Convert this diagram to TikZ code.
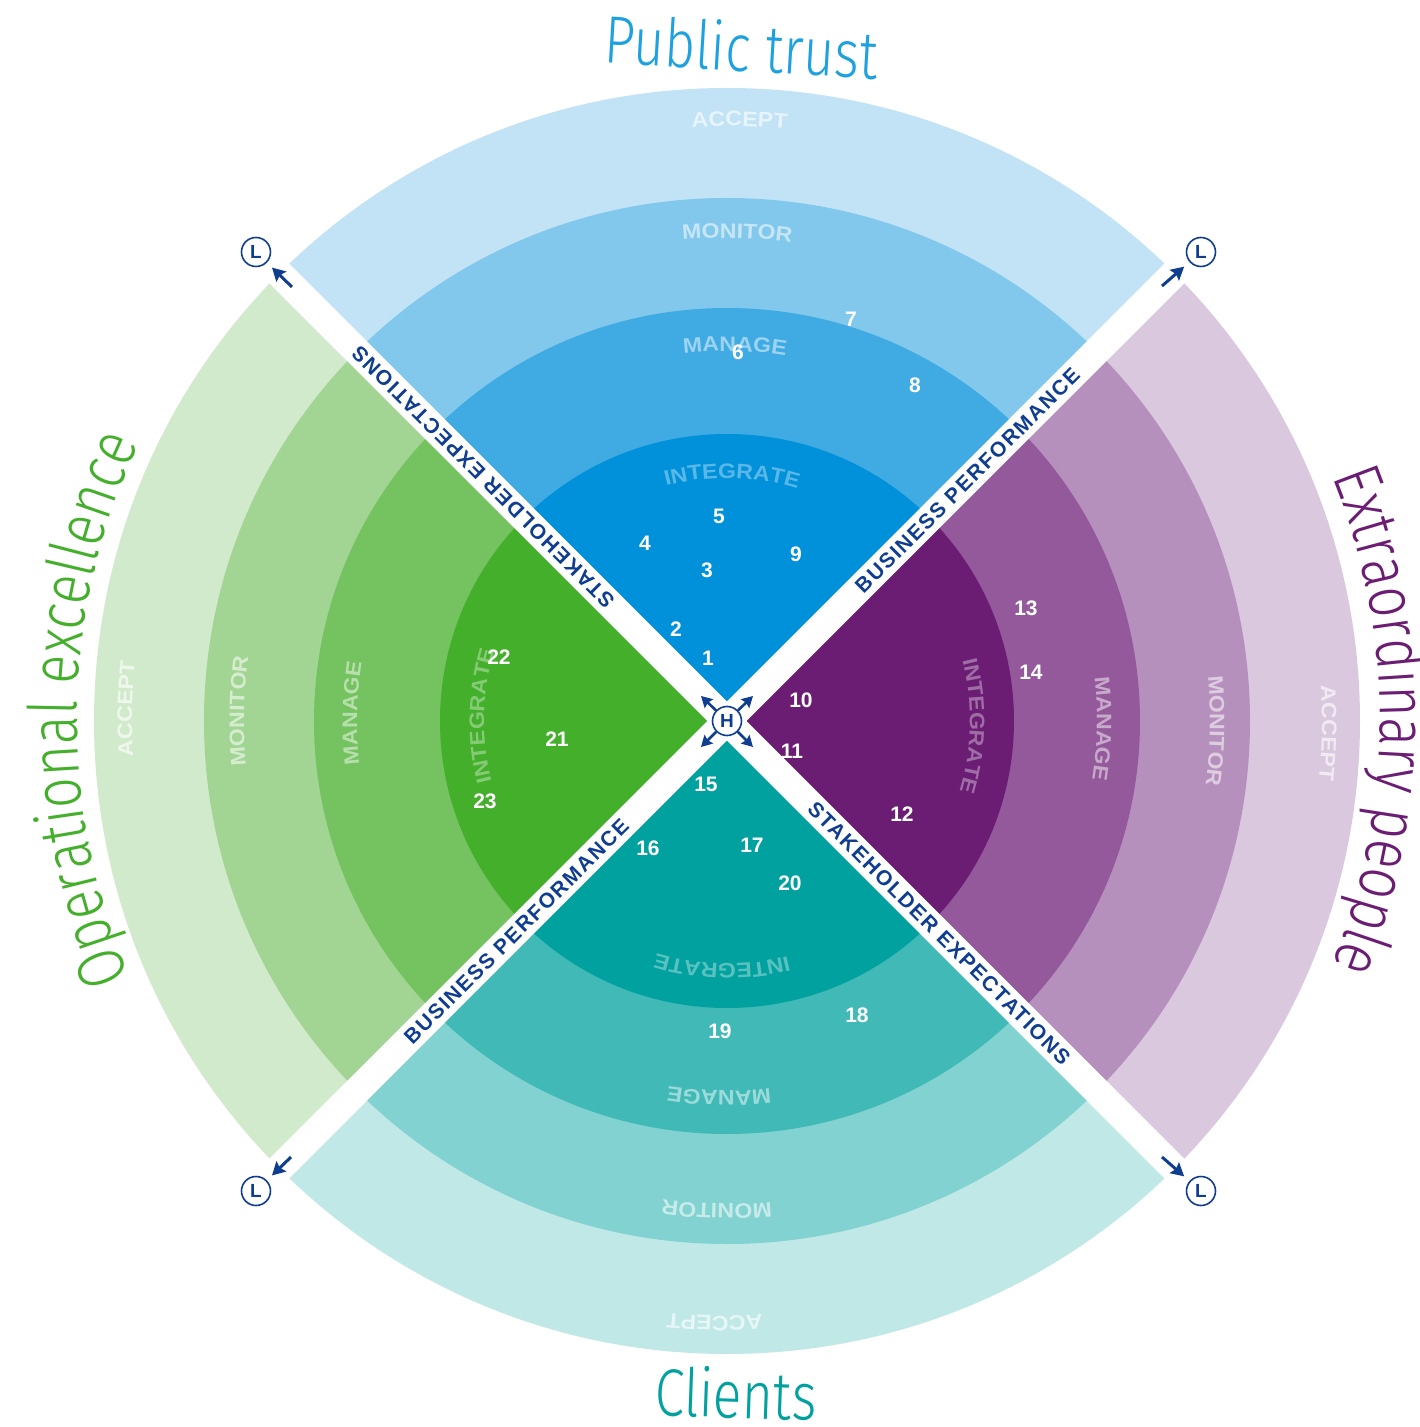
\documentclass[tikz,border=0pt]{standalone}
\usepackage{fontspec}
\setmainfont{Liberation Sans}
\newfontfamily\lblfont[FakeStretch=1.1]{Liberation Sans}
\newfontfamily\diagfont[LetterSpace=8]{Liberation Sans}
\IfFontExistsTF{Fira Sans Light}
  {\newfontfamily\titlefont[FakeStretch=0.8]{Fira Sans Light}}
  {\newfontfamily\titlefont[FakeStretch=0.8]{Fira Sans}}
\usetikzlibrary{decorations.text,arrows.meta}
\definecolor{navy}{HTML}{0F3D8F}
\definecolor{bA}{HTML}{C2E3F6}\definecolor{bB}{HTML}{81C8EC}\definecolor{bC}{HTML}{40AAE2}\definecolor{bD}{HTML}{0091DA}
\definecolor{gA}{HTML}{D2EACC}\definecolor{gB}{HTML}{A2D594}\definecolor{gC}{HTML}{74C260}\definecolor{gD}{HTML}{43AF2B}
\definecolor{pA}{HTML}{DAC8DF}\definecolor{pB}{HTML}{B690BD}\definecolor{pC}{HTML}{94599B}\definecolor{pD}{HTML}{6B1D74}
\definecolor{tA}{HTML}{C0E8E7}\definecolor{tB}{HTML}{81D2D0}\definecolor{tC}{HTML}{40B9B7}\definecolor{tD}{HTML}{00A19F}
\definecolor{titleblue}{HTML}{1DA1DF}
\newcommand\ringfont{\lblfont\bfseries\fontsize{21}{24}\selectfont}
\newcommand\ringlbl[4]{%
  \path[decorate,decoration={text along path,text align=center,
    text={|\ringfont\color{#3}|#4}}]
    ({#1+40}:#2pt) arc[start angle={#1+40}, end angle={#1-40}, radius=#2pt];}
\newcommand\quadrant[5]{%
  \begin{scope}[rotate=#1]
    \clip (0,20) -- (740,760) -- (-740,760) -- cycle;
    \fill[#2] (0,0) circle[radius=633pt];
    \fill[#3] (0,0) circle[radius=523pt];
    \fill[#4] (0,0) circle[radius=413pt];
    \fill[#5] (0,0) circle[radius=287pt];
  \end{scope}}
\begin{document}
\begin{tikzpicture}[x=1pt,y=1pt,
  num/.style={text=white,font=\bfseries\fontsize{21}{21}\selectfont,inner sep=0},
  diag/.style={text=navy,font=\diagfont\bfseries\fontsize{21}{22}\selectfont,inner sep=0},
  lcirc/.style={circle,draw=navy,line width=1.6pt,minimum size=29pt,inner sep=0,fill=white,
    text=navy,font=\bfseries\fontsize{19}{19}\selectfont},
  larrow/.style={draw=navy,line width=3pt,-{Stealth[length=13pt,width=14pt,inset=2pt]}},
  harrow/.style={draw=navy,line width=2.6pt,-{Stealth[length=11pt,width=12pt,inset=1.5pt]}},
  title/.style={font=\titlefont\fontsize{67}{67}\selectfont,inner sep=0,anchor=base}]
\useasboundingbox[fill=white] (-727,-706) rectangle (692,721);

% quadrants
\quadrant{0}{bA}{bB}{bC}{bD}
\quadrant{90}{gA}{gB}{gC}{gD}
\quadrant{180}{tA}{tB}{tC}{tD}
\quadrant{-90}{pA}{pB}{pC}{pD}

% ring labels
\ringlbl{88.8}{595}{white!62!bA}{ACCEPT}
\ringlbl{88.8}{483}{white!55!bB}{MONITOR}
\ringlbl{88.8}{370}{white!48!bC}{MANAGE}
\ringlbl{88.8}{243}{white!35!bD}{INTEGRATE}
\ringlbl{178.8}{595}{white!62!gA}{ACCEPT}
\ringlbl{178.8}{483}{white!55!gB}{MONITOR}
\ringlbl{178.8}{370}{white!48!gC}{MANAGE}
\ringlbl{178.8}{243}{white!35!gD}{INTEGRATE}
\ringlbl{268.8}{595}{white!62!tA}{ACCEPT}
\ringlbl{268.8}{483}{white!55!tB}{MONITOR}
\ringlbl{268.8}{370}{white!48!tC}{MANAGE}
\ringlbl{268.8}{243}{white!35!tD}{INTEGRATE}
\ringlbl{-1.2}{595}{white!62!pA}{ACCEPT}
\ringlbl{-1.2}{483}{white!55!pB}{MONITOR}
\ringlbl{-1.2}{370}{white!48!pC}{MANAGE}
\ringlbl{-1.2}{243}{white!35!pD}{INTEGRATE}

% titles
\node[title,text=titleblue,rotate=-3.4] (tpub) at (13,650) {Public trust};
\node[title,text=tD,rotate=-2] (tcli) at (8,-697) {Clients};
\path[decorate,decoration={text along path,text align=center,
  text={|\titlefont\fontsize{67}{67}\selectfont\color{gD}|Operational excellence}}]
  (219:650pt) arc[start angle=219, end angle=139, radius=650pt];
\path[decorate,decoration={text along path,text align=center,
  text={|\titlefont\fontsize{67}{67}\selectfont\color{pD}|Extraordinary people}}]
  (40:653pt) arc[start angle=40, end angle=-40, radius=653pt];

% diagonal labels
\node[diag,rotate=135] (se1) at (135:345pt) {STAKEHOLDER EXPECTATIONS};
\node[diag,rotate=45] (bp1) at (45:340pt) {BUSINESS PERFORMANCE};
\node[diag,rotate=45] (bp2) at (225:298pt) {BUSINESS PERFORMANCE};
\node[diag,rotate=-45] (se2) at (-45:300pt) {STAKEHOLDER EXPECTATIONS};

% numbers
\node[num] (n1) at (-19,63) {1};
\node[num] (n2) at (-51,92) {2};
\node[num] (n3) at (-20,151) {3};
\node[num] (n4) at (-82,178) {4};
\node[num] (n5) at (-8,205) {5};
\node[num] (n6) at (11,369) {6};
\node[num] (n7) at (124,402) {7};
\node[num] (n8) at (188,336) {8};
\node[num] (n9) at (69,167) {9};
\node[num] (n10) at (74,21) {10};
\node[num] (n11) at (65,-30) {11};
\node[num] (n12) at (175,-93) {12};
\node[num] (n13) at (299,113) {13};
\node[num] (n14) at (304,49) {14};
\node[num] (n15) at (-21,-63) {15};
\node[num] (n16) at (-79,-127) {16};
\node[num] (n17) at (25,-124) {17};
\node[num] (n18) at (130,-294) {18};
\node[num] (n19) at (-7,-310) {19};
\node[num] (n20) at (63,-162) {20};
\node[num] (n21) at (-170,-18) {21};
\node[num] (n22) at (-228,64) {22};
\node[num] (n23) at (-242,-80) {23};

% L markers
\node[lcirc] (Ltl) at (-471,469) {L};
\node[lcirc] (Ltr) at (474,469) {L};
\node[lcirc] (Lbl) at (-471,-470) {L};
\node[lcirc] (Lbr) at (474,-470) {L};
\coordinate (atl) at (-435,434);
\coordinate (atr) at (435,435);
\coordinate (abl) at (-436,-436);
\coordinate (abr) at (435,-436);
\draw[larrow,shorten >=7pt] (atl) -- (Ltl);
\draw[larrow,shorten >=7pt] (atr) -- (Ltr);
\draw[larrow,shorten >=7pt] (abl) -- (Lbl);
\draw[larrow,shorten >=7pt] (abr) -- (Lbr);

% H marker
\node[lcirc] (H) at (0,0) {H};
\coordinate (h1) at (-26,25);
\coordinate (h2) at (26,25);
\coordinate (h3) at (-26,-26);
\coordinate (h4) at (26,-26);
\draw[harrow] (H) -- (h1);
\draw[harrow] (H) -- (h2);
\draw[harrow] (H) -- (h3);
\draw[harrow] (H) -- (h4);
\end{tikzpicture}
\end{document}
